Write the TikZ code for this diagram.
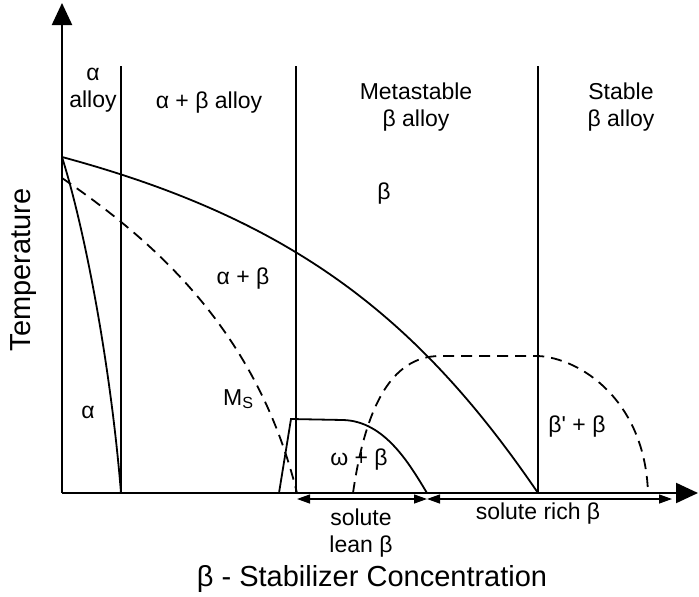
\documentclass[tikz,border=0pt]{standalone}
\usepackage{fontspec}
\setmainfont{Liberation Sans}
\usetikzlibrary{positioning,arrows.meta}
\tikzset{
  axis/.style={line width=2.2pt, -{Triangle[length=22pt, width=20pt]}},
  phase/.style={line width=1.8pt},
  trans/.style={line width=1.8pt, dash pattern=on 11pt off 7pt},
  divider/.style={line width=1.1pt},
  span/.style={line width=1.3pt, {Triangle[length=13pt, width=9pt]}-{Triangle[length=13pt, width=9pt]}},
  lbl/.style={font=\fontsize{23}{27}\selectfont, align=center, inner sep=0pt},
  axlbl/.style={font=\fontsize{29}{34}\selectfont, inner sep=0pt},
}

\begin{document}
\begin{tikzpicture}[x=1pt, y=-1pt]
  \useasboundingbox (0,0) rectangle (699,597);
  \coordinate (O) at (62,493);
  \coordinate (ytop) at (62,3);
  \coordinate (xend) at (698,493);
  \coordinate (tm) at (62,157);
  \coordinate (ms0) at (62,178);
  \coordinate (ms1) at (297,493);
  \coordinate (aend) at (121,493);
  \coordinate (bend) at (538,493);
  \coordinate (om0) at (279,493);
  \coordinate (om1) at (291,419);
  \coordinate (om2) at (343,420);
  \coordinate (om3) at (427,493);
  \coordinate (dm0) at (353,493);
  \coordinate (dm1) at (440,356);
  \coordinate (dm2) at (538,356);
  \coordinate (dm3) at (648,493);
  \coordinate (lean0) at (297,499);
  \coordinate (lean1) at (427,499);
  \coordinate (rich1) at (672,499);

  \foreach \x in {121,296,538}
    \draw[divider] (\x,66) -- (\x,493);
  \draw[axis] (O) -- (ytop);
  \draw[axis] (O) -- (xend);

  \draw[phase] (tm) .. controls (292,219) and (418,317) .. (bend);
  \draw[phase] (tm) .. controls (88,240) and (112,380) .. (aend);
  \draw[trans] (ms0) .. controls (160,245) and (258,335) .. (ms1);
  \draw[phase] (om0) -- (om1) -- (om2) .. controls (385,421) and (410,465) .. (om3);
  \draw[trans] (dm0) .. controls (365,410) and (390,356) .. (dm1) -- (dm2)
    .. controls (580,358) and (645,400) .. (dm3);

  \draw[span] (lean0) -- (lean1);
  \draw[span] (lean1) -- (rich1);

  \node[lbl] (aalloy) at (93,90) {α\\alloy};
  \node[lbl] (aballoy) at (209,103) {α + β alloy};
  \node[lbl] (meta) at (416,107) {Metastable\\β alloy};
  \node[lbl] (stable) at (621,107) {Stable\\β alloy};
  \node[lbl] (beta) at (384,194) {β};
  \node[lbl] (alphabeta) at (243,279) {α + β};
  \node[lbl, anchor=base west] (ms) at (223,405) {M\textsubscript{S}};
  \node[lbl] (alpha) at (88,412) {α};
  \node[lbl] (omegabeta) at (359,460) {ω + β};
  \node[lbl] (primebeta) at (577,427) {β\textquotesingle{} + β};
  \node[lbl, below=10pt of lean0, xshift=64pt] (lean) {solute\\lean β};
  \node[lbl, below=10pt of bend] (rich) {solute rich β};
  \node[axlbl] (xlab) at (372,579) {β - Stabilizer Concentration};
  \node[axlbl, rotate=90] (ylab) at (24,270) {Temperature};
\end{tikzpicture}
\end{document}
